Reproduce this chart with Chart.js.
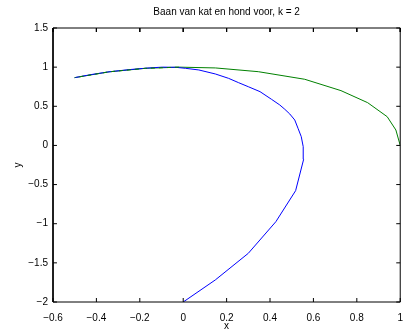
<!DOCTYPE html>
<html>
<head>
<meta charset="utf-8">
<script src="https://cdn.jsdelivr.net/npm/chart.js@4"></script>
<style>
  body { margin: 0; background: #fff; }
</style>
</head>
<body>
<canvas id="myChart" width="405" height="332"></canvas>
<script>
// cat runs along the unit circle, dog chases it (k = 2)
const catX = [1, 0.98, 0.94, 0.85, 0.727, 0.56, 0.346, 0.148, -0.02, -0.174, -0.342, -0.5];
const catY = [0, 0.197, 0.367, 0.546, 0.70, 0.845, 0.942, 0.99, 1.0, 0.985, 0.94, 0.866];

const dogX = [0, 0.148, 0.30, 0.427, 0.518, 0.555, 0.553, 0.544, 0.529, 0.514, 0.491, 0.468, 0.445, 0.407,
    0.354, 0.30, 0.255, 0.209, 0.148, 0.072, 0.011, -0.035, -0.096, -0.157, -0.25, -0.342, -0.42, -0.5];
const dogY = [-2, -1.718, -1.378, -0.974, -0.578, -0.177, -0.016, 0.112, 0.219, 0.325, 0.402, 0.462, 0.517, 0.589,
    0.687, 0.75, 0.802, 0.857, 0.913, 0.964, 0.985, 0.998, 1.0, 0.99, 0.968, 0.94, 0.907, 0.866];

const xTicks = [-0.6, -0.4, -0.2, 0, 0.2, 0.4, 0.6, 0.8, 1];
const yTicks = [-2, -1.5, -1, -0.5, 0, 0.5, 1, 1.5];

const toPoints = (xs, ys) => xs.map((x, i) => ({ x: x, y: ys[i] }));
const fmt = (v) => String(Math.round(v * 10) / 10).replace("-", "\u2212");

// where the dog has caught up, cat drawn dashed over it
const catTail = toPoints(catX, catY).filter((p) => p.x <= -0.02);

// axes box + inward ticks (about 4px long on a 351x274 plot)
const x0 = xTicks[0], x1 = xTicks[xTicks.length - 1];
const y0 = yTicks[0], y1 = yTicks[yTicks.length - 1];
const dx = (x1 - x0) * 4 / 351, dy = (y1 - y0) * 4 / 274;
const framePts = [{ x: x0, y: y0 }, { x: x1, y: y0 }, { x: x1, y: y1 }, { x: x0, y: y1 }, { x: x0, y: y0 }, { x: x0, y: null }];
xTicks.forEach((t) => {
    framePts.push({ x: t, y: y0 }, { x: t, y: y0 + dy }, { x: t, y: null });
    framePts.push({ x: t, y: y1 }, { x: t, y: y1 - dy }, { x: t, y: null });
});
yTicks.forEach((t) => {
    framePts.push({ x: x0, y: t }, { x: x0 + dx, y: t }, { x: x0, y: null });
    framePts.push({ x: x1, y: t }, { x: x1 - dx, y: t }, { x: x1, y: null });
});

Chart.defaults.font.family = "'Liberation Sans', Arial, sans-serif";
Chart.defaults.font.size = 10;
Chart.defaults.color = "#000";

new Chart(document.getElementById("myChart").getContext("2d"), {
    type: "scatter",
    data: {
        datasets: [
            {
                label: "kat",
                data: toPoints(catX, catY),
                showLine: true,
                borderColor: "rgb(0, 128, 0)",
                borderWidth: 1,
                pointRadius: 0,
                order: 3,
            },
            {
                label: "hond",
                data: toPoints(dogX, dogY),
                showLine: true,
                borderColor: "rgb(0, 0, 255)",
                borderWidth: 1,
                pointRadius: 0,
                order: 2,
            },
            {
                label: "kat (samen)",
                data: catTail,
                showLine: true,
                borderColor: "rgb(0, 128, 0)",
                borderWidth: 1,
                borderDash: [4, 4],
                pointRadius: 0,
                order: 1,
            },
            {
                label: "frame",
                data: framePts,
                showLine: true,
                spanGaps: false,
                borderColor: "#000",
                borderWidth: 1,
                pointRadius: 0,
                clip: false,
                order: 0,
            },
        ],
    },
    options: {
        responsive: false,
        animation: false,
        layout: { padding: { left: 0, right: 1, top: 0, bottom: 0 } },
        plugins: {
            legend: { display: false },
            tooltip: { enabled: false },
            title: {
                display: true,
                text: "Baan van kat en hond voor, k = 2",
                fullSize: false,
                font: { size: 10, weight: "normal" },
                padding: { top: 6, bottom: 10 },
            },
        },
        scales: {
            x: {
                type: "linear",
                min: -0.6,
                max: 1,
                afterBuildTicks: (s) => { s.ticks = xTicks.map((v) => ({ value: v })); },
                ticks: { callback: fmt, maxRotation: 0, padding: 2 },
                grid: { display: false },
                border: { display: false },
                title: { display: true, text: "x", padding: { top: 0, bottom: 0 } },
                afterFit: (s) => { s.height = 30; },
            },
            y: {
                type: "linear",
                min: -2,
                max: 1.5,
                afterBuildTicks: (s) => { s.ticks = yTicks.map((v) => ({ value: v })); },
                ticks: { callback: fmt, padding: -3 },
                grid: { display: false },
                border: { display: false },
                title: { display: true, text: "y", padding: { top: 12, bottom: 0 } },
                afterFit: (s) => { s.width = 53; },
            },
        },
    },
});
</script>
</body>
</html>
